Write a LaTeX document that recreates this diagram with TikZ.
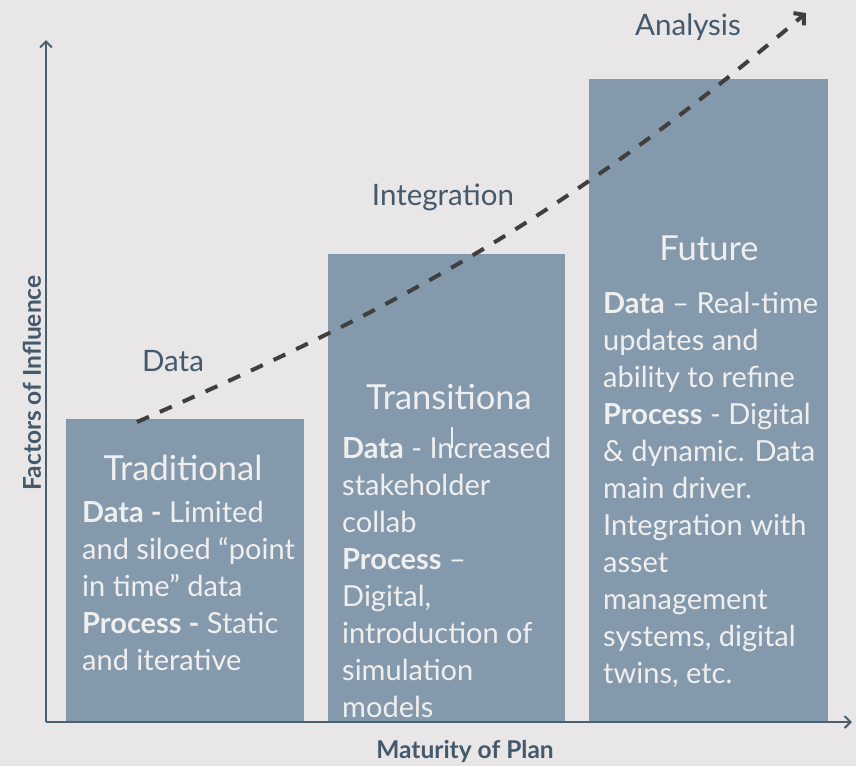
\documentclass[tikz,border=0pt]{standalone}
\usepackage{fontspec}
\setmainfont{Lato}
\usetikzlibrary{arrows.meta}

\definecolor{bgcol}{HTML}{E8E6E7}
\definecolor{barcol}{HTML}{8499AB}
\definecolor{bartext}{HTML}{EFEFEF}
\definecolor{labelcol}{HTML}{44596B}
\definecolor{axiscol}{HTML}{4A5F70}
\definecolor{trendcol}{HTML}{3F3F3F}

\begin{document}
\begin{tikzpicture}
        [x=1pt, y=-1pt,
        bar/.style={fill=barcol, draw=none, inner sep=0pt, anchor=south west},
        bartitle/.style={text=bartext, font=\fontsize{34.5}{40}\selectfont},
        barbody/.style={text=bartext, font=\fontsize{29}{37}\selectfont, align=left, inner sep=0pt, anchor=north west},
        stage/.style={text=labelcol, font=\fontsize{29.5}{37}\selectfont},
        axistitle/.style={text=labelcol, font=\bfseries\fontsize{24.5}{28}\selectfont},
        axis/.style={draw=axiscol, line width=2pt, -{Straight Barb[length=6pt, width=12pt]}},
        trend/.style={draw=trendcol, line width=4pt, dash pattern=on 13pt off 12pt, -{Straight Barb[length=7pt, width=16pt]}},
        ]
        \useasboundingbox[fill=bgcol] (0,0) rectangle (856,766);

        % axes
        \coordinate (o) at (46,722);
        \coordinate (ytip) at (46,40);
        \coordinate (xtip) at (852,722);

        % bars
        \node[bar, minimum width=238pt, minimum height=303pt] (trad) at (66,722) {};
        \node[bar, minimum width=237pt, minimum height=468pt] (trans) at (328,722) {};
        \node[bar, minimum width=239pt, minimum height=643pt] (future) at (589,722) {};

        \draw[axis] (o) -- (ytip);
        \draw[axis] (o) -- (xtip);

        % bar texts
        \node[bartitle] (tradtitle) at (183,468) {Traditional};
        \node[barbody] (tradbody) at (82,501) {\textbf{Data -} Limited\\and siloed “point\\in time” data\\\textbf{Process -} Static\\and iterative};

        \node[bartitle] (transtitle) at (449,397) {Transitiona};
        \node[barbody] (transbody) at (342,437) {\textbf{Data} - Increased\\stakeholder\\collab\\\textbf{Process} –\\Digital,\\introduction of\\simulation\\models};
        \draw[bartext, line width=1.3pt] (452,427) -- (452,448);

        \node[bartitle] (futuretitle) at (709,248) {Future};
        \node[barbody] (futurebody) at (603,292) {\textbf{Data} – Real-time\\updates and\\ability to refine\\\textbf{Process} - Digital\\\& dynamic. Data\\main driver.\\Integration with\\asset\\management\\systems, digital\\twins, etc.};

        % trend
        \coordinate (start) at (137,422);
        \coordinate (end) at (806,13);
        \draw[trend] (start) .. controls (387,312) and (555,226) .. (end);

        % stage labels
        \node[stage] (data) at (173,361) {Data};
        \node[stage] (integration) at (443,197) {Integration};
        \node[stage] (analysis) at (688,27) {Analysis};

        % axis titles
        \node[axistitle, rotate=90] (ylabel) at (32,383) {Factors of Influence};
        \node[axistitle] (xlabel) at (465,751) {Maturity of Plan};
\end{tikzpicture}
\end{document}
